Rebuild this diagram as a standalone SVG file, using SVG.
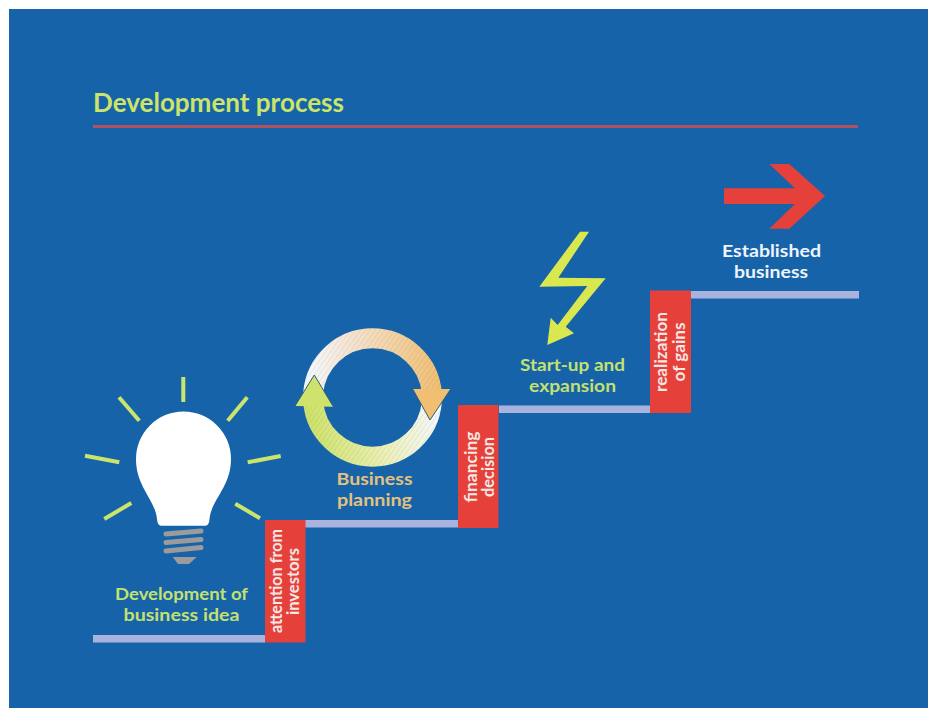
<svg xmlns="http://www.w3.org/2000/svg" width="928" height="708" viewBox="0 0 928 708">
<style>
text{font-family:Lato,"Noto Sans","Liberation Sans",sans-serif;font-weight:700;text-anchor:middle}
.l{font-size:17.400px}
.g{fill:#c5e070}.o{fill:#e3c27f}.w{fill:#eef4fa}.r{fill:#f6e6e4;font-size:17.500px}
.step{fill:#a9b3dd}.box{fill:#e5413a}
.ray{stroke:#c9e56b;stroke-width:4}
.screw{stroke:#9b9b9b;stroke-width:5;stroke-linecap:round}
.ring{fill:none;stroke-width:20}
.head{stroke:#2f5f78;stroke-width:1}
</style>
<defs>
<linearGradient id="ot" gradientUnits="userSpaceOnUse" x1="310" y1="375" x2="440" y2="385"><stop offset="0" stop-color="#f4f8fb"/><stop offset="0.3" stop-color="#f5e3cf"/><stop offset="1" stop-color="#f0bf72"/></linearGradient>
<linearGradient id="gb" gradientUnits="userSpaceOnUse" x1="438" y1="410" x2="312" y2="425"><stop offset="0" stop-color="#f4f8fb"/><stop offset="0.45" stop-color="#ecefb8"/><stop offset="1" stop-color="#cfe36c"/></linearGradient>
<pattern id="hatch" patternUnits="userSpaceOnUse" width="4" height="4" patternTransform="rotate(35)"><rect width="1" height="4" fill="#000" fill-opacity="0.06"/></pattern>
</defs>
<rect width="928" height="708" fill="#ffffff"/>
<rect x="9" y="9" width="919" height="699" fill="#1663a9"/>
<g id="title">
<text x="218.500" y="112" font-size="26.500" style="fill:#cbe469" textLength="251" lengthAdjust="spacingAndGlyphs">Development process</text>
<rect x="93" y="125" width="765" height="3" fill="#b2525f"/>
</g>
<g id="connectors">
<rect class="step" x="93" y="635" width="172" height="7.500"/>
<rect class="step" x="305" y="520" width="153" height="7.500"/>
<rect class="step" x="499" y="405.500" width="151" height="7.500"/>
<rect class="step" x="691" y="291" width="168" height="7.500"/>
</g>
<g id="node-idea">
<line class="ray" x1="183.300" y1="377" x2="183.300" y2="402"/>
<line class="ray" x1="119" y1="397.300" x2="139.300" y2="420.700"/>
<line class="ray" x1="247.300" y1="397.300" x2="227.700" y2="420.700"/>
<line class="ray" x1="85" y1="455.700" x2="119.300" y2="462.300"/>
<line class="ray" x1="280.700" y1="456" x2="247.700" y2="462.300"/>
<line class="ray" x1="131.300" y1="503" x2="104.300" y2="519"/>
<line class="ray" x1="235.300" y1="503.700" x2="260" y2="518.300"/>
<path fill="#ffffff" d="M161,525.700Q157.500,525.700 157,519C155,499 136,487 136,459A47.500,47.500 0 0 1 231,459C231,487 211.500,499 209.500,519Q209,525.700 205.500,525.700Z"/>
<line class="screw" x1="166" y1="534" x2="201" y2="531"/>
<line class="screw" x1="166" y1="542.500" x2="201" y2="539.500"/>
<line class="screw" x1="166" y1="551" x2="201" y2="547.500"/>
<polygon fill="#9b9b9b" points="172.700,557 196.700,557 189,564 178,564"/>
<text x="181.500" y="600" class="l g" textLength="133" lengthAdjust="spacingAndGlyphs">Development of</text>
<text x="181.500" y="621" class="l g" textLength="116" lengthAdjust="spacingAndGlyphs">business idea</text>
</g>
<g id="node-attention">
<rect class="box" x="265" y="520" width="40.500" height="122.500"/>
<text class="r" transform="translate(281.700 581) rotate(-90)" textLength="104" lengthAdjust="spacingAndGlyphs">attention from</text>
<text class="r" transform="translate(299 581.500) rotate(-90)" textLength="67" lengthAdjust="spacingAndGlyphs">investors</text>
</g>
<g id="node-planning">
<path class="ring" stroke="url(#ot)" d="M313.200,393A59.500,59.500 0 0 1 431.800,393"/>
<path class="ring" stroke="url(#gb)" d="M431.800,402A59.500,59.500 0 0 1 313.200,402"/>
<path class="ring" stroke="url(#hatch)" d="M313.200,393A59.500,59.500 0 0 1 431.800,393"/>
<path class="ring" stroke="url(#hatch)" d="M431.800,402A59.500,59.500 0 0 1 313.200,402"/>
<polygon fill="#f0bf72" points="412.700,389 450.700,389 430,420"/>
<polyline class="head" fill="none" points="412.700,389 430,420 450.700,389"/>
<polygon fill="#cfe36c" points="314.300,375 295,406 333.300,406.700"/>
<polyline class="head" fill="none" points="295,406 314.300,375 333.300,406.700"/>
<text x="374.500" y="485" class="l o" textLength="76" lengthAdjust="spacingAndGlyphs">Business</text>
<text x="374.500" y="506" class="l o" textLength="75" lengthAdjust="spacingAndGlyphs">planning</text>
</g>
<g id="node-financing">
<rect class="box" x="458" y="405" width="40.500" height="123"/>
<text class="r" transform="translate(477 467) rotate(-90)" textLength="71" lengthAdjust="spacingAndGlyphs">financing</text>
<text class="r" transform="translate(494 467) rotate(-90)" textLength="60" lengthAdjust="spacingAndGlyphs">decision</text>
</g>
<g id="node-startup">
<polygon fill="#d8e84e" points="580,231.700 589,231.700 558.300,277.700 605.700,278.300 565.700,326.700 574,333.300 547.300,345 550.700,317.700 557.700,325 587.300,286 539.300,286.700"/>
<text x="572.500" y="371" class="l g" textLength="105" lengthAdjust="spacingAndGlyphs">Start-up and</text>
<text x="572.500" y="392" class="l g" textLength="87" lengthAdjust="spacingAndGlyphs">expansion</text>
</g>
<g id="node-realization">
<rect class="box" x="650" y="290.500" width="41" height="122.500"/>
<text class="r" transform="translate(667 352) rotate(-90)" textLength="80" lengthAdjust="spacingAndGlyphs">realization</text>
<text class="r" transform="translate(685 352) rotate(-90)" textLength="59" lengthAdjust="spacingAndGlyphs">of gains</text>
</g>
<g id="node-established">
<polygon fill="#e5413a" points="724,188.300 795,188.300 769.300,164 789.300,164 825,196 789.300,228.700 769.300,228.700 795,204 724,204"/>
<text x="771.500" y="257" class="l w" textLength="99" lengthAdjust="spacingAndGlyphs">Established</text>
<text x="771" y="278" class="l w" textLength="74" lengthAdjust="spacingAndGlyphs">business</text>
</g>
</svg>
